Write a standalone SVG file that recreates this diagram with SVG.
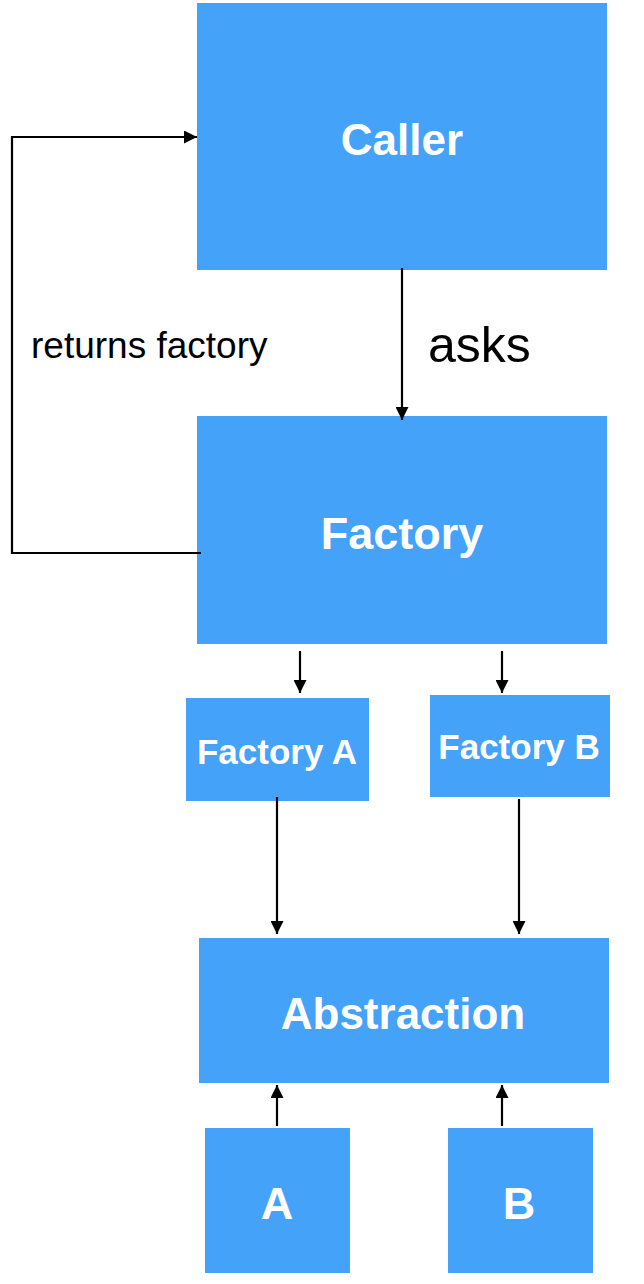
<svg xmlns="http://www.w3.org/2000/svg" width="644" height="1284" viewBox="0 0 644 1284">
<style>
.box{fill:#44A2F9}
.lbl{fill:#fff;font-family:"Liberation Sans",Arial,sans-serif;font-weight:bold;text-anchor:middle}
.edge{stroke:#000;stroke-width:2.2;fill:none}
.etxt{fill:#000;font-family:"Liberation Sans",Arial,sans-serif}
</style>
<defs>
<marker id="ah" markerUnits="userSpaceOnUse" markerWidth="13" markerHeight="13" viewBox="0 0 13 13" refX="13" refY="6.5" orient="auto">
<path d="M0,0 L13,6.5 L0,13 z" fill="#000"/>
</marker>
</defs>
<rect width="644" height="1284" fill="#fff"/>
<g id="caller"><rect class="box" x="197" y="3" width="410" height="267"/><text class="lbl" x="402" y="155" font-size="44">Caller</text></g>
<g id="factory"><rect class="box" x="197" y="416" width="410" height="228"/><text class="lbl" x="402" y="549" font-size="45">Factory</text></g>
<g id="factoryA"><rect class="box" x="186" y="698" width="183" height="103"/><text class="lbl" x="277" y="764" font-size="35">Factory A</text></g>
<g id="factoryB"><rect class="box" x="430" y="695" width="180" height="102"/><text class="lbl" x="519" y="759" font-size="35">Factory B</text></g>
<g id="abstraction"><rect class="box" x="199" y="938" width="410" height="145"/><text class="lbl" x="403" y="1029" font-size="44">Abstraction</text></g>
<g id="a"><rect class="box" x="205" y="1128" width="145" height="145"/><text class="lbl" x="277" y="1219" font-size="45">A</text></g>
<g id="b"><rect class="box" x="448" y="1128" width="145" height="145"/><text class="lbl" x="519" y="1219" font-size="45">B</text></g>
<g id="connectors">
<line class="edge" x1="402" y1="268" x2="402" y2="420" marker-end="url(#ah)"/>
<polyline class="edge" points="201,553 12,553 12,137 197,137" marker-end="url(#ah)"/>
<line class="edge" x1="300" y1="651" x2="300" y2="693" marker-end="url(#ah)"/>
<line class="edge" x1="502" y1="651" x2="502" y2="693" marker-end="url(#ah)"/>
<line class="edge" x1="277" y1="797" x2="277" y2="934" marker-end="url(#ah)"/>
<line class="edge" x1="519" y1="799" x2="519" y2="934" marker-end="url(#ah)"/>
<line class="edge" x1="277" y1="1126" x2="277" y2="1085" marker-end="url(#ah)"/>
<line class="edge" x1="502" y1="1126" x2="502" y2="1085" marker-end="url(#ah)"/>
<text class="etxt" x="428" y="362" font-size="50">asks</text>
<text class="etxt" x="31" y="358" font-size="37">returns factory</text>
</g>
</svg>
